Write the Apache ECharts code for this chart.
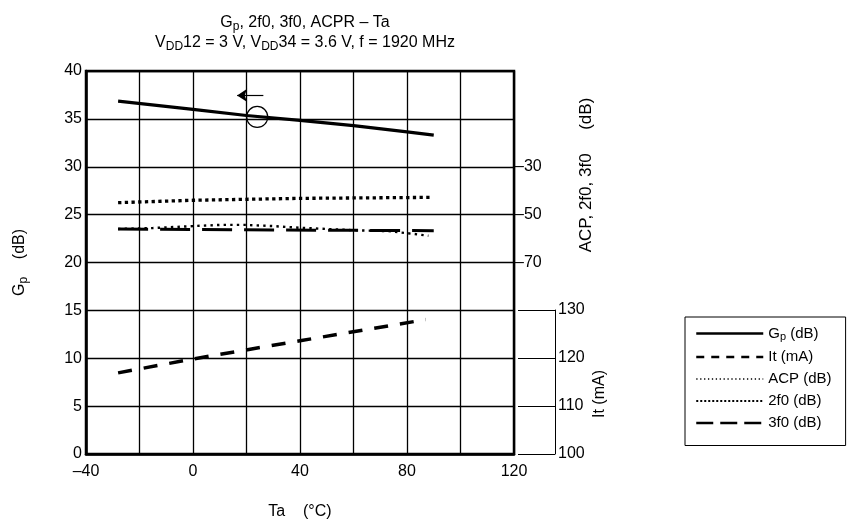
<!DOCTYPE html>
<html>
<head>
<meta charset="utf-8">
<script src="https://cdn.jsdelivr.net/npm/echarts@6.0.0/dist/echarts.min.js"></script>
<style>
  html, body { margin: 0; padding: 0; background: #fff; }
  #chart { width: 848px; height: 523px; }
</style>
</head>
<body>
<div id="chart"></div>
<script>
// values
var taGp = [-28, 0, 20, 40, 60, 80, 90];
var gpVals = [36.85, 36.0, 35.35, 34.85, 34.3, 33.65, 33.3];

var taIt = [-28, 0, 40, 87];
var itVals = [116.9, 119.8, 123.6, 128.0];

var taAcp = [-28, -15, 0, 10, 20, 30, 40, 50, 62, 73, 82, 88];
var acpVals = [-56.0, -55.6, -54.8, -54.3, -54.3, -54.8, -55.5, -56.0, -56.6, -56.9, -58.0, -58.8];

var ta2f0 = [-28, 0, 40, 89];
var f2Vals = [-45.0, -44.0, -43.2, -42.8];

var ta3f0 = [-28, 30, 90];
var f3Vals = [-56.0, -56.4, -56.7];

var xTicks = [-40, 0, 40, 80, 120];
var acpTicks = [-70, -50, -30];

var FONT = "'Liberation Sans', Arial, sans-serif";

function pairs(xs, ys) {
    var out = [];
    for (var i = 0; i < xs.length; i++) out.push([xs[i], ys[i]]);
    return out;
}
function dash(v) {
    return String(v).replace('-', '\u2013');
}

var rich = {
    n: { fontSize: 16, fontFamily: FONT, fontWeight: 'normal', color: '#000' },
    s: { fontSize: 12, fontFamily: FONT, fontWeight: 'normal', color: '#000', padding: [8, 0, 0, 0] },
    ln: { fontSize: 15, fontFamily: FONT, color: '#000' },
    ls: { fontSize: 11, fontFamily: FONT, color: '#000', padding: [7, 0, 0, 0] }
};

var hidden = { opacity: 0 };

var chart = echarts.init(document.getElementById('chart'));

chart.setOption({
    animation: false,
    backgroundColor: '#fff',
    textStyle: { fontFamily: FONT, color: '#000' },
    title: {
        left: 300,
        top: 8,
        textAlign: 'center',
        text: '{n|G}{s|p}{n|, 2f0, 3f0, ACPR \u2013 Ta}\n{n|V}{s|DD}{n|12 = 3 V, V}{s|DD}{n|34 = 3.6 V, f = 1920 MHz}',
        textStyle: { rich: rich, lineHeight: 20, fontWeight: 'normal' }
    },
    legend: {
        orient: 'vertical',
        left: 685,
        top: 317,
        padding: [9, 14, 15, 10],
        borderColor: '#000',
        borderWidth: 1,
        borderRadius: 0,
        itemWidth: 67,
        itemHeight: 14,
        itemGap: 7,
        selectedMode: false,
        textStyle: { fontSize: 15, fontFamily: FONT, color: '#000', rich: rich },
        formatter: function (name) {
            if (name === 'Gp (dB)') return '{ln|G}{ls|p}{ln| (dB)}';
            return '{ln|' + name + '}';
        },
        data: [
            { name: 'Gp (dB)', itemStyle: hidden, lineStyle: { color: '#000', width: 2.5, type: 'solid' } },
            { name: 'It (mA)', itemStyle: hidden, lineStyle: { color: '#000', width: 2.5, type: [8, 7] } },
            { name: 'ACP (dB)', itemStyle: hidden, lineStyle: { color: '#000', width: 1.3, type: [1.3, 2.6] } },
            { name: '2f0 (dB)', itemStyle: hidden, lineStyle: { color: '#000', width: 2, type: [2, 2] } },
            { name: '3f0 (dB)', itemStyle: hidden, lineStyle: { color: '#000', width: 2.5, type: [17, 7] } }
        ]
    },
    grid: [
        { left: 86, right: 334, top: 71, bottom: 69, outerBoundsMode: 'none', show: true, borderColor: '#000', borderWidth: 2.5, backgroundColor: 'transparent' },
        { left: 86, right: 334, top: 310, bottom: 69, outerBoundsMode: 'none' }
    ],
    xAxis: [
        {
            type: 'value', gridIndex: 0, min: -40, max: 120, interval: 20,
            name: 'Ta    (\u00b0C)', nameLocation: 'middle', nameGap: 50,
            nameTextStyle: { fontSize: 16, fontFamily: FONT, color: '#000' },
            axisLine: { show: true, lineStyle: { color: '#000', width: 2.5 } },
            axisTick: { show: false },
            splitLine: { show: true, lineStyle: { color: '#000', width: 1.3 } },
            axisLabel: {
                fontSize: 16, color: '#000', margin: 10,
                formatter: function (v) { return xTicks.indexOf(v) >= 0 ? dash(v) : ''; }
            }
        },
        { type: 'value', gridIndex: 1, min: -40, max: 120, show: false }
    ],
    yAxis: [
        {
            type: 'value', gridIndex: 0, min: 0, max: 40, interval: 5,
            name: '{n|G}{s|p}{n|    (dB)}', nameLocation: 'middle', nameGap: 56,
            nameTextStyle: { rich: rich },
            axisLine: { show: true, onZero: false, lineStyle: { color: '#000', width: 2.5 } },
            axisTick: { show: false },
            splitLine: { show: true, lineStyle: { color: '#000', width: 1.3 } },
            axisLabel: { fontSize: 16, color: '#000', margin: 4 }
        },
        {
            type: 'value', gridIndex: 0, min: -150, max: 10, interval: 20, position: 'right',
            axisLine: { show: false, onZero: false },
            axisTick: { show: false },
            splitLine: { show: false },
            axisLabel: {
                fontSize: 16, color: '#000', margin: 1,
                formatter: function (v) { return acpTicks.indexOf(v) >= 0 ? dash(v) : ''; }
            }
        },
        {
            type: 'value', gridIndex: 1, min: 100, max: 130, interval: 10, position: 'right', offset: 41,
            axisLine: { show: true, onZero: false, lineStyle: { color: '#000', width: 1 } },
            axisTick: { show: true, inside: true, length: 37, lineStyle: { color: '#000', width: 1 } },
            splitLine: { show: false },
            axisLabel: { fontSize: 16, color: '#000', margin: 3 }
        }
    ],
    graphic: [
        {
            type: 'text', x: 586, y: 175, rotation: Math.PI / 2,
            style: { text: 'ACP, 2f0, 3f0     (dB)', font: '17px ' + FONT, fill: '#000', align: 'center', verticalAlign: 'middle' }
        },
        {
            type: 'text', x: 600, y: 394, rotation: Math.PI / 2,
            style: { text: 'It (mA)', font: '16px ' + FONT, fill: '#000', align: 'center', verticalAlign: 'middle' }
        }
    ],
    series: [
        {
            name: 'Gp (dB)', type: 'line', xAxisIndex: 0, yAxisIndex: 0,
            data: pairs(taGp, gpVals), symbol: 'none',
            lineStyle: { color: '#000', width: 3.2 },
            itemStyle: { color: '#000' },
            markPoint: {
                silent: true,
                symbol: 'circle', symbolSize: 21,
                itemStyle: { color: 'rgba(0,0,0,0)', borderColor: '#000', borderWidth: 1.2 },
                label: { show: false },
                data: [{ coord: [24, 35.2] }]
            },
            markLine: {
                silent: true,
                symbol: ['none', 'arrow'], symbolSize: 10,
                label: { show: false },
                lineStyle: { color: '#000', width: 1.2, type: 'solid' },
                data: [[{ coord: [26.3, 37.45] }, { coord: [16.5, 37.45] }]]
            }
        },
        {
            name: 'It (mA)', type: 'line', xAxisIndex: 1, yAxisIndex: 2,
            data: pairs(taIt, itVals), symbol: 'none',
            lineStyle: { color: '#000', width: 3.5, type: [14, 12] },
            itemStyle: { color: '#000' }
        },
        {
            name: 'ACP (dB)', type: 'line', xAxisIndex: 0, yAxisIndex: 1,
            data: pairs(taAcp, acpVals), symbol: 'none',
            lineStyle: { color: '#000', width: 2.4, type: [2.4, 4.2] },
            itemStyle: { color: '#000' }
        },
        {
            name: '2f0 (dB)', type: 'line', xAxisIndex: 0, yAxisIndex: 1,
            data: pairs(ta2f0, f2Vals), symbol: 'none',
            lineStyle: { color: '#000', width: 3.3, type: [3.3, 3.4] },
            itemStyle: { color: '#000' }
        },
        {
            name: '3f0 (dB)', type: 'line', xAxisIndex: 0, yAxisIndex: 1,
            data: pairs(ta3f0, f3Vals), symbol: 'none',
            lineStyle: { color: '#000', width: 3, type: [30, 12] },
            itemStyle: { color: '#000' }
        }
    ]
});
</script>
</body>
</html>
